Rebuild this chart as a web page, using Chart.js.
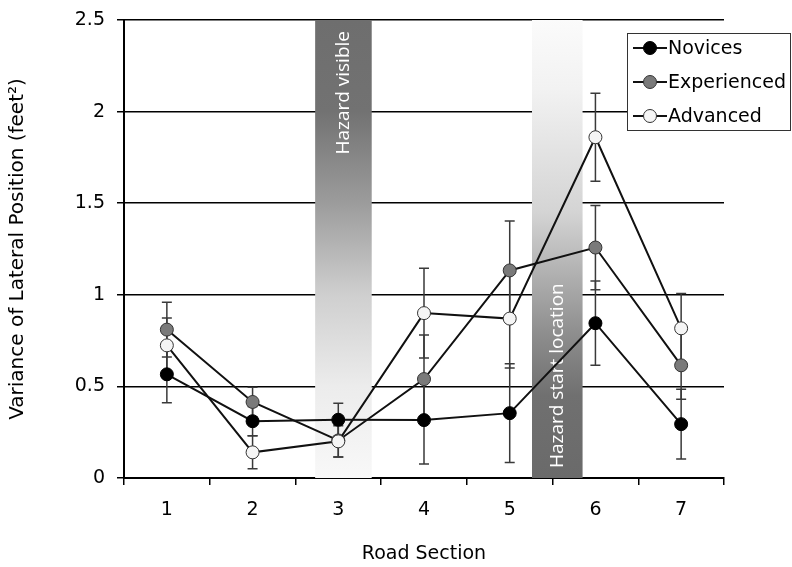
<!DOCTYPE html>
<html>
<head>
<meta charset="utf-8">
<script src="https://cdn.jsdelivr.net/npm/chart.js@4/dist/chart.umd.min.js"></script>
<style>
  html, body { margin: 0; padding: 0; background: #fff; }
  #wrap { width: 792px; height: 567px; position: relative; }
</style>
</head>
<body>
<div id="wrap"><canvas id="c" width="792" height="567"></canvas></div>
<script>
// ---- data ----
const sections = ['1', '2', '3', '4', '5', '6', '7'];
const yTicks = [0, 0.5, 1, 1.5, 2, 2.5];

const novices     = [0.566, 0.31, 0.318, 0.316, 0.354, 0.845, 0.294];
const experienced = [0.81, 0.415, 0.205, 0.54, 1.133, 1.258, 0.615];
const advanced    = [0.724, 0.14, 0.20, 0.90, 0.87, 1.86, 0.817];

const novicesErr     = [0.155, 0.08, 0.09, 0.24, 0.27, 0.23, 0.19];
const experiencedErr = [0.15, 0.08, 0.09, 0.24, 0.27, 0.23, 0.185];
const advancedErr    = [0.15, 0.09, 0.085, 0.245, 0.27, 0.24, 0.19];

// hazard bands in section units (category index, 0-based)
const bandLabels = ['Hazard visible', 'Hazard start location'];
const bandFrom   = [1.73, 4.26];
const bandTo     = [2.39, 4.85];
const bandDarkAtTop = [true, false];

const FONT = '"DejaVu Sans", "Liberation Sans", Arial, sans-serif';

const seriesStyle = [
  { fill: '#000000', stroke: '#000000' },
  { fill: '#7a7a7a', stroke: '#333333' },
  { fill: '#f5f5f5', stroke: '#333333' }
];
const errs = [novicesErr, experiencedErr, advancedErr];

const bandsPlugin = {
  id: 'bands',
  beforeDatasetsDraw(chart) {
    const { ctx, chartArea: a, scales: { x, y } } = chart;
    ctx.save();
    for (let i = 0; i < bandLabels.length; i++) {
      const x0 = x.getPixelForValue(bandFrom[i]);
      const x1 = x.getPixelForValue(bandTo[i]);
      const g = ctx.createLinearGradient(0, a.top, 0, a.bottom);
      if (bandDarkAtTop[i]) {
        g.addColorStop(0, '#6e6e6e');
        g.addColorStop(0.2, '#727272');
        g.addColorStop(0.4, '#9c9c9c');
        g.addColorStop(0.6, '#cfcfcf');
        g.addColorStop(0.8, '#ececec');
        g.addColorStop(1, '#f8f8f8');
      } else {
        g.addColorStop(0, '#fbfbfb');
        g.addColorStop(0.15, '#f2f2f2');
        g.addColorStop(0.42, '#d4d4d4');
        g.addColorStop(0.7, '#8a8a8a');
        g.addColorStop(0.82, '#707070');
        g.addColorStop(1, '#6a6a6a');
      }
      ctx.fillStyle = g;
      ctx.fillRect(x0, a.top, x1 - x0, a.bottom - a.top);
      // label
      ctx.save();
      ctx.fillStyle = '#ffffff';
      ctx.font = '19px "Open Sans", "Noto Sans", sans-serif';
      ctx.textBaseline = 'middle';
      const cx = (x0 + x1) / 2;
      if (bandDarkAtTop[i]) {
        ctx.translate(cx, a.top + 11);
        ctx.rotate(-Math.PI / 2);
        ctx.textAlign = 'right';
      } else {
        ctx.translate(cx, a.bottom - 10);
        ctx.rotate(-Math.PI / 2);
        ctx.textAlign = 'left';
      }
      ctx.fillText(bandLabels[i], 0, 0);
      ctx.restore();
    }
    // error bars
    ctx.strokeStyle = '#3a3a3a';
    ctx.lineWidth = 1.5;
    chart.data.datasets.forEach((ds, di) => {
      ds.data.forEach((v, k) => {
        const e = errs[di][k];
        const px = x.getPixelForValue(k);
        const pt = y.getPixelForValue(v + e);
        const pb = y.getPixelForValue(v - e);
        ctx.beginPath();
        ctx.moveTo(px, pt); ctx.lineTo(px, pb);
        ctx.moveTo(px - 5, pt); ctx.lineTo(px + 5, pt);
        ctx.moveTo(px - 5, pb); ctx.lineTo(px + 5, pb);
        ctx.stroke();
      });
    });
    ctx.restore();
  }
};

const legendPlugin = {
  id: 'boxLegend',
  afterDraw(chart) {
    const { ctx, chartArea: a } = chart;
    const left = a.right - 97, top = a.top + 13, w = 164, h = 98;
    ctx.save();
    ctx.fillStyle = '#ffffff';
    ctx.fillRect(left, top, w, h);
    ctx.strokeStyle = '#333333';
    ctx.lineWidth = 1;
    ctx.strokeRect(left + 0.5, top + 0.5, w - 1, h - 1);
    ctx.font = '19px ' + FONT;
    ctx.textBaseline = 'middle';
    ctx.textAlign = 'left';
    chart.data.datasets.forEach((ds, i) => {
      const yy = top + 15 + i * 34;
      ctx.strokeStyle = '#111';
      ctx.lineWidth = 2;
      ctx.beginPath();
      ctx.moveTo(left + 6, yy); ctx.lineTo(left + 40, yy);
      ctx.stroke();
      ctx.beginPath();
      ctx.arc(left + 23, yy, 6.5, 0, Math.PI * 2);
      ctx.fillStyle = seriesStyle[i].fill;
      ctx.fill();
      ctx.lineWidth = 1;
      ctx.strokeStyle = seriesStyle[i].stroke;
      ctx.stroke();
      ctx.fillStyle = '#000';
      ctx.fillText(ds.label, left + 41, yy + 1);
    });
    ctx.restore();
  }
};

function mk(label, data, i, order) {
  return {
    label, data, order,
    borderColor: '#111111',
    borderWidth: 2,
    pointRadius: 6.5,
    pointHoverRadius: 6.5,
    pointBackgroundColor: seriesStyle[i].fill,
    pointBorderColor: seriesStyle[i].stroke,
    pointBorderWidth: 1,
    tension: 0,
    fill: false
  };
}

new Chart(document.getElementById('c'), {
  type: 'line',
  data: {
    labels: sections,
    datasets: [
      mk('Novices', novices, 0, 2),
      mk('Experienced', experienced, 1, 1),
      mk('Advanced', advanced, 2, 0)
    ]
  },
  options: {
    responsive: false,
    animation: false,
    events: [],
    layout: { padding: { left: 0, top: 20, right: 68, bottom: 0 } },
    plugins: { legend: { display: false }, tooltip: { enabled: false } },
    scales: {
      x: {
        type: 'category',
        offset: true,
        grid: { offset: true, drawOnChartArea: false, drawTicks: true, tickLength: 7, color: '#000', lineWidth: 1.5 },
        border: { display: true, color: '#000', width: 2 },
        ticks: { color: '#000', font: { family: FONT, size: 19 }, padding: 14, maxRotation: 0 },
        title: { display: true, text: 'Road Section', color: '#000', font: { family: FONT, size: 19 }, padding: { top: 4, bottom: 2 } },
        afterFit(s) { s.height = 89; s.paddingLeft = 0; s.paddingRight = 0; }
      },
      y: {
        min: 0, max: 2.5,
        afterBuildTicks(s) { s.ticks = yTicks.map(v => ({ value: v })); },
        grid: { color: '#000', lineWidth: 1.5, tickLength: 7, drawTicks: true },
        border: { display: true, color: '#000', width: 2 },
        ticks: { color: '#000', font: { family: FONT, size: 19 }, padding: 12, callback: v => String(v) },
        title: { display: true, text: 'Variance of Lateral Position (feet²)', color: '#000', font: { family: FONT, size: 20 }, padding: { top: 6, bottom: 4 } },
        afterFit(s) { s.width = 124; s.paddingTop = 0; s.paddingBottom = 0; }
      }
    }
  },
  plugins: [bandsPlugin, legendPlugin]
});
</script>
</body>
</html>
